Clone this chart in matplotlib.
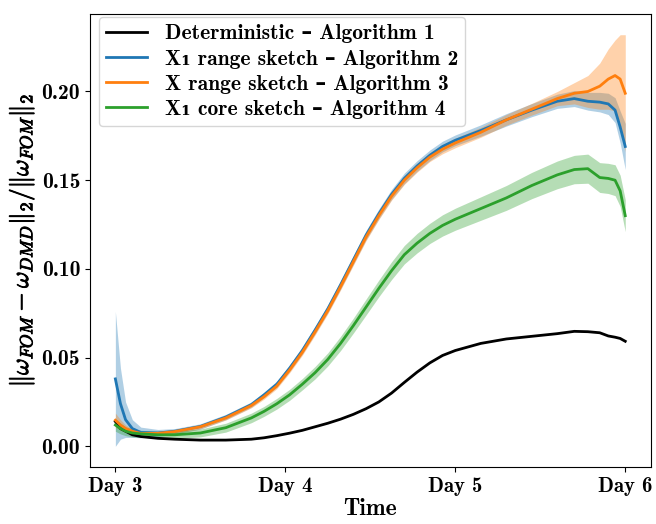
import numpy as np
import matplotlib
matplotlib.use("Agg")
import matplotlib.pyplot as plt
import matplotlib.patheffects as pe

plt.rcParams['font.family'] = ['cmb10', 'DejaVu Serif']
plt.rcParams['font.weight'] = 'bold'
plt.rcParams['mathtext.fontset'] = 'cm'
plt.rcParams['axes.unicode_minus'] = False

# Time in days
days = [3.00, 3.03, 3.06, 3.10, 3.15, 3.25, 3.35, 3.50, 3.65, 3.80,
        3.875, 3.95, 4.025, 4.10, 4.175, 4.25, 4.325, 4.40, 4.475, 4.55,
        4.625, 4.70, 4.775, 4.85, 4.925, 5.00,
        5.15, 5.30, 5.45, 5.60, 5.70, 5.78, 5.85, 5.90, 5.94, 5.97, 6.00]

# Deterministic - Algorithm 1
det = [0.0140, 0.0100, 0.0085, 0.0065, 0.0055, 0.0045, 0.0040, 0.0035, 0.0035, 0.0040,
       0.0048, 0.0060, 0.0074, 0.0090, 0.0110, 0.0130, 0.0153, 0.0180, 0.0212, 0.0250,
       0.0300, 0.0360, 0.0418, 0.0470, 0.0512, 0.0540,
       0.0580, 0.0605, 0.0620, 0.0635, 0.0648, 0.0646, 0.0640, 0.0622, 0.0615, 0.0608, 0.0592]

# X1 range sketch - Algorithm 2 (mean, std)
alg2 = [0.0380, 0.0240, 0.0150, 0.0100, 0.0078, 0.0075, 0.0085, 0.0112, 0.0165, 0.0235,
        0.0290, 0.0350, 0.0440, 0.0540, 0.0655, 0.0775, 0.0910, 0.1050, 0.1190, 0.1310,
        0.1420, 0.1510, 0.1580, 0.1640, 0.1690, 0.1725,
        0.1780, 0.1840, 0.1895, 0.1945, 0.1960, 0.1945, 0.1940, 0.1930, 0.1895, 0.1800, 0.1690]
alg2_std = [0.0380, 0.0200, 0.0100, 0.0050, 0.0030, 0.0020, 0.0015, 0.0015, 0.0015, 0.0015,
            0.0016, 0.0018, 0.0019, 0.0020, 0.0021, 0.0022, 0.0024, 0.0025, 0.0026, 0.0027,
            0.0028, 0.0030, 0.0030, 0.0030, 0.0030, 0.0030,
            0.0032, 0.0035, 0.0037, 0.0040, 0.0045, 0.0050, 0.0055, 0.0060, 0.0070, 0.0090, 0.0130]

# X range sketch - Algorithm 3 (mean, std)
alg3 = [0.0147, 0.0120, 0.0100, 0.0085, 0.0072, 0.0073, 0.0083, 0.0110, 0.0160, 0.0230,
        0.0280, 0.0340, 0.0430, 0.0530, 0.0645, 0.0765, 0.0900, 0.1040, 0.1180, 0.1300,
        0.1410, 0.1500, 0.1570, 0.1630, 0.1675, 0.1710,
        0.1770, 0.1840, 0.1900, 0.1960, 0.1990, 0.2000, 0.2030, 0.2070, 0.2090, 0.2070, 0.1990]
alg3_std = [0.0040, 0.0030, 0.0020, 0.0015, 0.0012, 0.0012, 0.0012, 0.0012, 0.0012, 0.0013,
            0.0014, 0.0015, 0.0016, 0.0017, 0.0018, 0.0018, 0.0019, 0.0020, 0.0021, 0.0022,
            0.0023, 0.0024, 0.0025, 0.0025, 0.0026, 0.0027,
            0.0028, 0.0030, 0.0033, 0.0040, 0.0060, 0.0090, 0.0130, 0.0170, 0.0200, 0.0250, 0.0330]

# X1 core sketch - Algorithm 4 (mean, std)
alg4 = [0.0120, 0.0100, 0.0085, 0.0075, 0.0070, 0.0065, 0.0065, 0.0075, 0.0105, 0.0160,
        0.0197, 0.0240, 0.0290, 0.0350, 0.0415, 0.0490, 0.0580, 0.0680, 0.0785, 0.0890,
        0.0990, 0.1080, 0.1145, 0.1200, 0.1245, 0.1280,
        0.1340, 0.1400, 0.1470, 0.1530, 0.1560, 0.1565, 0.1515, 0.1510, 0.1500, 0.1440, 0.1300]
alg4_std = [0.0035, 0.0030, 0.0025, 0.0022, 0.0020, 0.0020, 0.0020, 0.0022, 0.0025, 0.0027,
            0.0028, 0.0030, 0.0031, 0.0032, 0.0035, 0.0037, 0.0040, 0.0042, 0.0045, 0.0047,
            0.0050, 0.0052, 0.0055, 0.0057, 0.0060, 0.0062,
            0.0066, 0.0070, 0.0074, 0.0078, 0.0080, 0.0082, 0.0084, 0.0085, 0.0087, 0.0088, 0.0090]

x_ticks = [3, 4, 5, 6]
x_labels = ['Day 3', 'Day 4', 'Day 5', 'Day 6']
y_ticks = [0.00, 0.05, 0.10, 0.15, 0.20]
y_labels = ['0.00', '0.05', '0.10', '0.15', '0.20']

fig, ax = plt.subplots(figsize=(6.56, 5.24), dpi=100)
fig.subplots_adjust(left=0.137, right=0.992, bottom=0.109, top=0.973)

t = np.array(days)
ax.plot(t, det, color='black', lw=2, label='Deterministic – Algorithm 1')

series = [
    (alg2, alg2_std, 'C0', 'X\u2081 range sketch – Algorithm 2'),
    (alg3, alg3_std, 'C1', 'X range sketch – Algorithm 3'),
    (alg4, alg4_std, 'C2', 'X\u2081 core sketch – Algorithm 4'),
]
for mean, std, color, label in series:
    mean = np.array(mean)
    std = np.array(std)
    ax.plot(t, mean, color=color, lw=2, label=label)
    ax.fill_between(t, mean - std, mean + std, color=color, alpha=0.35, lw=0)

ax.set_xticks(x_ticks)
ax.set_xticklabels(x_labels, fontsize=15)
ax.set_yticks(y_ticks)
ax.set_yticklabels(y_labels, fontsize=15.5)
ax.set_xlabel('Time', fontsize=17, labelpad=2)
ylab = ax.set_ylabel(r'$\|\omega_{FOM} - \omega_{DMD}\|_2/\|\omega_{FOM}\|_2$', fontsize=18)
ylab.set_path_effects([pe.withStroke(linewidth=0.7, foreground='black')])

ax.legend(loc='upper left', bbox_to_anchor=(0.016, 0.994), borderaxespad=0,
          fontsize=15.5, handlelength=1.9, labelspacing=0.28, borderpad=0.35)

fig.savefig('out.png', dpi=100)
